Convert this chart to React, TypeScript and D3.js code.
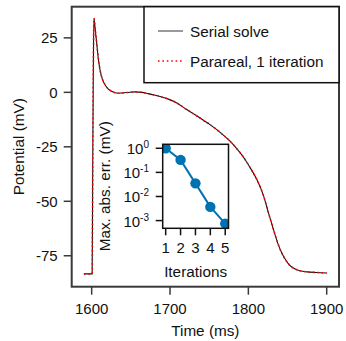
import React from 'react';
import * as d3 from 'd3';

// action potential (time in ms, potential in mV)
const timeMs = [1590, 1600.6, 1601.4, 1602.2, 1602.9, 1604.5, 1606.4, 1608.5, 1610.6, 1613.5, 1617, 1621, 1625.5, 1634, 1645, 1655.3, 1664, 1672.3, 1680, 1689.4, 1697, 1706.4, 1721.3, 1732, 1742.5, 1751, 1759.6, 1768, 1776.6, 1786, 1795.8, 1803, 1810.7, 1819.2, 1825.5, 1831.9, 1838.3, 1843, 1846.9, 1852, 1859.6, 1866, 1874.6, 1887, 1900];
const potential = [-83.3, -83.3, -30, 15, 34, 29, 22.6, 15.5, 10.4, 6.2, 3.5, 1.6, 0.5, -0.4, -0.1, 0.2, 0, -0.6, -1.2, -2.1, -3, -4.4, -7.9, -10.3, -12.8, -14.8, -17.1, -19.6, -22.4, -26.2, -30.8, -35, -39.9, -47.3, -55.1, -62.8, -70, -74, -76.5, -79.1, -81.1, -81.9, -82.4, -82.7, -82.9];

const iterations = [1, 2, 3, 4, 5];
const maxAbsErr = [1.0, 0.33, 0.035, 0.0037, 0.00075];

const xTicks = [1600, 1700, 1800, 1900];
const yTicks = [25, 0, -25, -50, -75];
const errTicks = [0, -1, -2, -3];

const W = 346;
const H = 341;
const FONT = '"Liberation Sans", Arial, Helvetica, sans-serif';
const TICK_FS = 15;
const LABEL_FS = 15.3;

export default function App() {
  // main plot area
  const m = { left: 71.7, top: 6.7, right: 339, bottom: 286.7 };
  const x = d3.scaleLinear().domain([1574.5, 1915.7]).range([m.left, m.right]);
  const y = d3.scaleLinear().domain([-89.2, 39.3]).range([m.bottom, m.top]);

  const pts = timeMs.map((t, i) => [t, potential[i]] as [number, number]);
  const line = d3.line<[number, number]>()
    .x(d => x(d[0]))
    .y(d => y(d[1]))
    .curve(d3.curveMonotoneX);
  const path = line(pts) || '';

  // inset
  const ins = { left: 162.7, top: 144.3, right: 228.5, bottom: 228.3 };
  const ix = d3.scaleLinear().domain([0.8, 5.22]).range([ins.left, ins.right]);
  const iy = d3.scaleLog().domain([10 ** -3.32, 10 ** 0.165]).range([ins.bottom, ins.top]);
  const errLine = d3.line<number>()
    .x((d, i) => ix(iterations[i]))
    .y(d => iy(d));

  const axisCol = '#3a3a3a';

  return (
    <svg width={W} height={H} style={{ position: 'absolute', left: 0, top: 0 }} fontFamily={FONT}>
      <rect width={W} height={H} fill="white" />
      <defs>
        <clipPath id="main-clip">
          <rect x={m.left} y={m.top} width={m.right - m.left} height={m.bottom - m.top} />
        </clipPath>
        <clipPath id="inset-clip">
          <rect x={ins.left} y={ins.top} width={ins.right - ins.left} height={ins.bottom - ins.top} />
        </clipPath>
      </defs>

      {/* curves */}
      <g clipPath="url(#main-clip)">
        <path d={path} fill="none" stroke="#111" strokeWidth={1.1} />
        <path d={path} fill="none" stroke="#ff0000" strokeWidth={1.6} strokeDasharray="1.6,2.8" />
      </g>

      {/* main frame */}
      <rect x={m.left} y={m.top} width={m.right - m.left} height={m.bottom - m.top}
        fill="none" stroke={axisCol} strokeWidth={2} />

      {/* x axis */}
      {xTicks.map(t => (
        <g key={t}>
          <line x1={x(t)} x2={x(t)} y1={m.bottom} y2={m.bottom + 8} stroke={axisCol} strokeWidth={1.5} />
          <text x={x(t)} y={m.bottom + 27.5} textAnchor="middle" fontSize={TICK_FS} fill="#111">{t}</text>
        </g>
      ))}
      <text x={(m.left + m.right) / 2} y={336} textAnchor="middle" fontSize={LABEL_FS} fill="#111">Time (ms)</text>

      {/* y axis */}
      {yTicks.map(t => (
        <g key={t}>
          <line x1={m.left - 8} x2={m.left} y1={y(t)} y2={y(t)} stroke={axisCol} strokeWidth={1.5} />
          <text x={m.left - 14} y={y(t) + 5.3} textAnchor="end" fontSize={TICK_FS} fill="#111">{t}</text>
        </g>
      ))}
      <text transform={`translate(24,${(m.top + m.bottom) / 2}) rotate(-90)`} textAnchor="middle"
        fontSize={LABEL_FS} fill="#111">Potential (mV)</text>

      {/* legend */}
      <rect x={144} y={m.top} width={m.right - 144} height={76} fill="white" stroke="#111" strokeWidth={1.5} />
      <line x1={158} x2={183} y1={31} y2={31} stroke="#555" strokeWidth={1.2} />
      <text x={190} y={36.5} fontSize={LABEL_FS} fill="#111">Serial solve</text>
      <line x1={158} x2={183} y1={61} y2={61} stroke="#ff0000" strokeWidth={1.6} strokeDasharray="1.6,2.8" />
      <text x={190} y={66.5} fontSize={LABEL_FS} fill="#111">Parareal, 1 iteration</text>

      {/* inset */}
      <rect x={ins.left} y={ins.top} width={ins.right - ins.left} height={ins.bottom - ins.top} fill="white" />
      <g clipPath="url(#inset-clip)">
        <path d={errLine(maxAbsErr) || ''} fill="none" stroke="#0072b2" strokeWidth={2} />
        {maxAbsErr.map((e, i) => (
          <circle key={i} cx={ix(iterations[i])} cy={iy(e)} r={5.2} fill="#0072b2" />
        ))}
      </g>
      <rect x={ins.left} y={ins.top} width={ins.right - ins.left} height={ins.bottom - ins.top}
        fill="none" stroke="#111" strokeWidth={1.5} />
      {iterations.map(t => (
        <g key={t}>
          <line x1={ix(t)} x2={ix(t)} y1={ins.bottom} y2={ins.bottom + 7} stroke="#111" strokeWidth={1.5} />
          <text x={ix(t)} y={ins.bottom + 25} textAnchor="middle" fontSize={TICK_FS} fill="#111">{t}</text>
        </g>
      ))}
      {errTicks.map(p => (
        <g key={p}>
          <line x1={ins.left - 7} x2={ins.left} y1={iy(10 ** p)} y2={iy(10 ** p)} stroke="#111" strokeWidth={1.5} />
          <text x={149} y={iy(10 ** p) + 6} textAnchor="end" fontSize={TICK_FS} fill="#111">
            10<tspan dy={-6} fontSize={10}>{p === 0 ? '0' : `-${-p}`}</tspan>
          </text>
        </g>
      ))}
      <text x={(ins.left + ins.right) / 2} y={277} textAnchor="middle" fontSize={LABEL_FS} fill="#111">Iterations</text>
      <text transform={`translate(110,${(ins.top + ins.bottom) / 2}) rotate(-90)`} textAnchor="middle"
        fontSize={LABEL_FS} fill="#111">Max. abs. err. (mV)</text>
    </svg>
  );
}
